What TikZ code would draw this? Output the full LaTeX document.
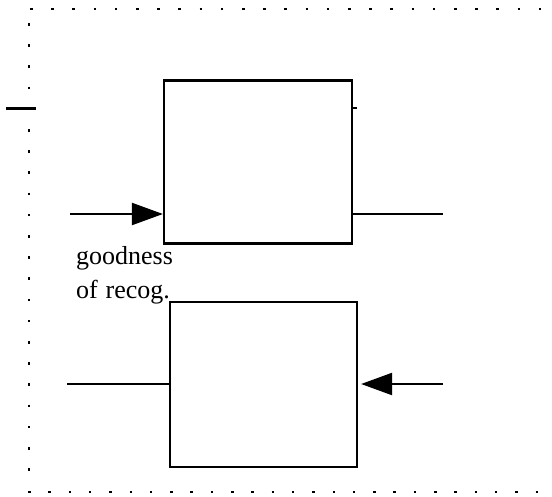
\documentclass[tikz,border=0pt]{standalone}
\usepackage{fontspec}
\setmainfont{Liberation Serif}
\usetikzlibrary{arrows.meta}
\tikzset{
  blockbox/.style={draw, line width=2.2pt, minimum width=188pt, minimum height=163pt, inner sep=0pt},
  wire/.style={line width=2.2pt},
  arrowwire/.style={line width=2.2pt, -{Triangle[length=31pt,width=22pt]}},
  dotline/.style={line width=2.5pt, dash pattern=on 2.5pt off 18.7pt},
  lbl/.style={font=\fontsize{26}{30}\selectfont, anchor=base west, inner sep=0pt}
}
\begin{document}
\begin{tikzpicture}[x=1pt,y=-1pt]
\useasboundingbox (0,0) rectangle (552,496);
% dotted frame
\coordinate (tl) at (30,9);
\coordinate (tr) at (552,9);
\coordinate (lt) at (29,23);
\coordinate (lb) at (29,475);
\coordinate (bl) at (28,492);
\coordinate (br) at (552,492);
\draw[dotline] (tl) -- (tr);
\draw[dotline] (lt) -- (lb);
\draw[dotline, dash pattern=on 2.5pt off 17.8pt] (bl) -- (br);
% short line top left
\coordinate (s1) at (6,108);
\coordinate (s2) at (36,108);
\draw[wire, line width=3pt] (s1) -- (s2);
% boxes
\node[blockbox] (b1) at (258,162) {};
\node[blockbox, minimum width=187pt, minimum height=165pt] (b2) at (263.5,384.5) {};
% tick on box1 right side
\coordinate (t1) at (b1.east |- s1);
\coordinate (t2) at ([xshift=4pt]t1);
\draw[wire] (t1) -- (t2);
% connectors
\coordinate (a1) at (70,214);
\coordinate (o1) at (443,214);
\draw[arrowwire] (a1) -- (a1 -| b1.west);
\draw[wire] (o1 -| b1.east) -- (o1);
\coordinate (a2) at (443,384);
\coordinate (o2) at (67,384);
\draw[arrowwire] (a2) -- ([xshift=3pt]a2 -| b2.east);
\draw[wire] (o2) -- (o2 -| b2.west);
% labels
\node[lbl] (g) at (76,264) {goodness};
\node[lbl] (r) at (76,298) {of\hspace{0.3em}recog.};
\end{tikzpicture}
\end{document}
